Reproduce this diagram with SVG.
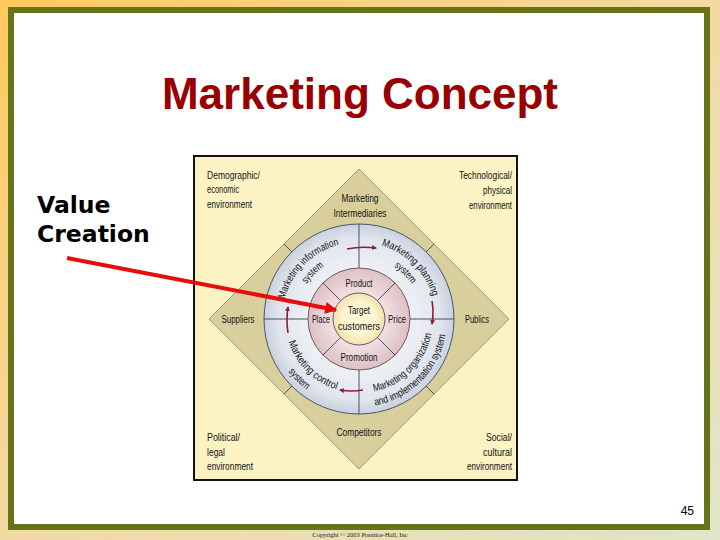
<svg xmlns="http://www.w3.org/2000/svg" width="720" height="540" viewBox="0 0 720 540">
<defs>
<linearGradient id="bg" x1="0" y1="0" x2="1" y2="1">
<stop offset="0" stop-color="#FFC95E"/>
<stop offset="0.5" stop-color="#F3D9A2"/>
<stop offset="1" stop-color="#E0E5CA"/>
</linearGradient>
<radialGradient id="ringBlue" cx="0.5" cy="0.5" r="0.5">
<stop offset="0.55" stop-color="#EEF0F4"/>
<stop offset="0.85" stop-color="#E0E5EE"/>
<stop offset="1" stop-color="#C9D1DE"/>
</radialGradient>
<radialGradient id="ringPink" cx="0.5" cy="0.5" r="0.5">
<stop offset="0.5" stop-color="#F2E2E4"/>
<stop offset="1" stop-color="#DDC0C6"/>
</radialGradient>
<radialGradient id="core" cx="0.5" cy="0.5" r="0.5">
<stop offset="0.6" stop-color="#FDF6D2"/>
<stop offset="1" stop-color="#F1E2AE"/>
</radialGradient>
<marker id="sm" viewBox="0 0 10 10" refX="8" refY="5" markerWidth="5" markerHeight="5" orient="auto" markerUnits="userSpaceOnUse">
<path d="M0,0 L10,5 L0,10 Z" fill="#8E1F33"/>
</marker>
<marker id="big" viewBox="0 0 10 10" refX="9" refY="5" markerWidth="14" markerHeight="12" orient="auto" markerUnits="userSpaceOnUse">
<path d="M0,0 L10,5 L0,10 Z" fill="#E80C0C"/>
</marker>
<path id="ulo" d="M282,319 A77,77 0 0 1 359,242"/>
<path id="uli" d="M296,319 A63,63 0 0 1 359,256"/>
<path id="uro" d="M359,242 A77,77 0 0 1 436,319"/>
<path id="uri" d="M359,256 A63,63 0 0 1 422,319"/>
<path id="lri" d="M359,393 A74,74 0 0 0 433,319"/>
<path id="lro" d="M359,407 A88,88 0 0 0 447,319"/>
<path id="lli" d="M285,319 A74,74 0 0 0 359,393"/>
<path id="llo" d="M271,319 A88,88 0 0 0 359,407"/>
</defs>
<style>
.cond { font-family: "Liberation Sans", Arial, sans-serif; fill: #141414; font-size: 10px; }
.arc { font-size: 10.5px; }
.div { stroke: #4A5060; stroke-width: 1; fill: none; }
.sa { stroke: #8E1F33; stroke-width: 1.6; fill: none; marker-end: url(#sm); }
</style>

<rect x="0" y="0" width="720" height="540" fill="url(#bg)"/>
<rect id="frame" x="11" y="10" width="696" height="517" fill="#FFFFFF" stroke="#667318" stroke-width="6"/>

<text id="title" x="360" y="109" text-anchor="middle" font-family="'Liberation Sans', Arial, sans-serif" font-weight="bold" font-size="44" fill="#990000">Marketing Concept</text>

<g id="value-creation">
<text x="37" y="213" font-family="'DejaVu Sans', Verdana, sans-serif" font-weight="bold" font-size="23.5" fill="#000">Value</text>
<text x="37" y="242" font-family="'DejaVu Sans', Verdana, sans-serif" font-weight="bold" font-size="23.5" fill="#000">Creation</text>
</g>

<g id="panel">
<rect x="194" y="156" width="323" height="324" fill="#FBF3C3" stroke="#111" stroke-width="2"/>
</g>

<g id="diamond">
<path d="M359,169 L509,319 L359,469 L209,319 Z" fill="#D8CF9D" stroke="#8F8860" stroke-width="0.8"/>
<path class="div" d="M284,244 L292,252 M434,244 L426,252 M434,394 L426,386 M284,394 L292,386" stroke="#6A6545"/>
</g>

<g id="outer-ring">
<circle cx="359" cy="319" r="95" fill="url(#ringBlue)" stroke="#4A5566" stroke-width="1"/>
<path class="div" d="M359,224 L359,268 M359,370 L359,414 M264,319 L308,319 M410,319 L454,319"/>
</g>

<g id="mix-ring">
<circle cx="359" cy="319" r="51" fill="url(#ringPink)" stroke="#6E5A60" stroke-width="1"/>
<path class="div" d="M341.3,301.3 L322.9,282.9 M376.7,301.3 L395.1,282.9 M376.7,336.7 L395.1,355.1 M341.3,336.7 L322.9,355.1" stroke="#6E5A60"/>
</g>

<g id="target">
<circle cx="359" cy="319" r="26" fill="url(#core)" stroke="#6E5A60" stroke-width="1"/>
<text class="cond" x="359" y="314" text-anchor="middle" textLength="22" lengthAdjust="spacingAndGlyphs">Target</text>
<text class="cond" x="359" y="330" text-anchor="middle" textLength="42" lengthAdjust="spacingAndGlyphs">customers</text>
</g>

<g id="product"><text class="cond" x="359" y="287" text-anchor="middle" textLength="27" lengthAdjust="spacingAndGlyphs">Product</text></g>
<g id="place"><text class="cond" x="321" y="323" text-anchor="middle" textLength="18" lengthAdjust="spacingAndGlyphs">Place</text></g>
<g id="price"><text class="cond" x="397" y="323" text-anchor="middle" textLength="18" lengthAdjust="spacingAndGlyphs">Price</text></g>
<g id="promotion"><text class="cond" x="359" y="361" text-anchor="middle" textLength="37" lengthAdjust="spacingAndGlyphs">Promotion</text></g>

<g id="info-system">
<text class="cond arc"><textPath href="#ulo" startOffset="50%" text-anchor="middle" textLength="80" lengthAdjust="spacingAndGlyphs">Marketing information</textPath></text>
<text class="cond arc"><textPath href="#uli" startOffset="50%" text-anchor="middle" textLength="25" lengthAdjust="spacingAndGlyphs">system</textPath></text>
</g>
<g id="planning-system">
<text class="cond arc"><textPath href="#uro" startOffset="50%" text-anchor="middle" textLength="75" lengthAdjust="spacingAndGlyphs">Marketing planning</textPath></text>
<text class="cond arc"><textPath href="#uri" startOffset="50%" text-anchor="middle" textLength="25" lengthAdjust="spacingAndGlyphs">system</textPath></text>
</g>
<g id="organization-system">
<text class="cond arc"><textPath href="#lri" startOffset="50%" text-anchor="middle" textLength="86" lengthAdjust="spacingAndGlyphs">Marketing organization</textPath></text>
<text class="cond arc"><textPath href="#lro" startOffset="50%" text-anchor="middle" textLength="106" lengthAdjust="spacingAndGlyphs">and implementation system</textPath></text>
</g>
<g id="control-system">
<text class="cond arc"><textPath href="#lli" startOffset="50%" text-anchor="middle" textLength="70" lengthAdjust="spacingAndGlyphs">Marketing control</textPath></text>
<text class="cond arc"><textPath href="#llo" startOffset="50%" text-anchor="middle" textLength="26" lengthAdjust="spacingAndGlyphs">system</textPath></text>
</g>

<g id="intermediaries">
<text class="cond" x="360" y="202" text-anchor="middle" textLength="37" lengthAdjust="spacingAndGlyphs">Marketing</text>
<text class="cond" x="360" y="217" text-anchor="middle" textLength="53" lengthAdjust="spacingAndGlyphs">Intermediaries</text>
</g>
<g id="suppliers"><text class="cond" x="238" y="323" text-anchor="middle" textLength="33" lengthAdjust="spacingAndGlyphs">Suppliers</text></g>
<g id="publics"><text class="cond" x="477" y="323" text-anchor="middle" textLength="24" lengthAdjust="spacingAndGlyphs">Publics</text></g>
<g id="competitors"><text class="cond" x="359" y="436" text-anchor="middle" textLength="45" lengthAdjust="spacingAndGlyphs">Competitors</text></g>

<g id="demographic">
<text class="cond" x="207" y="179" textLength="53" lengthAdjust="spacingAndGlyphs">Demographic/</text>
<text class="cond" x="207" y="193" textLength="32" lengthAdjust="spacingAndGlyphs">economic</text>
<text class="cond" x="207" y="208" textLength="45" lengthAdjust="spacingAndGlyphs">environment</text>
</g>
<g id="technological">
<text class="cond" x="512" y="179" text-anchor="end" textLength="53" lengthAdjust="spacingAndGlyphs">Technological/</text>
<text class="cond" x="512" y="194" text-anchor="end" textLength="29" lengthAdjust="spacingAndGlyphs">physical</text>
<text class="cond" x="512" y="209" text-anchor="end" textLength="43" lengthAdjust="spacingAndGlyphs">environment</text>
</g>
<g id="political">
<text class="cond" x="207" y="441" textLength="33" lengthAdjust="spacingAndGlyphs">Political/</text>
<text class="cond" x="207" y="456" textLength="18" lengthAdjust="spacingAndGlyphs">legal</text>
<text class="cond" x="207" y="470" textLength="46" lengthAdjust="spacingAndGlyphs">environment</text>
</g>
<g id="social">
<text class="cond" x="512" y="441" text-anchor="end" textLength="26" lengthAdjust="spacingAndGlyphs">Social/</text>
<text class="cond" x="512" y="456" text-anchor="end" textLength="29" lengthAdjust="spacingAndGlyphs">cultural</text>
<text class="cond" x="512" y="470" text-anchor="end" textLength="45" lengthAdjust="spacingAndGlyphs">environment</text>
</g>

<g id="connectors">
<path class="sa" d="M347,249 Q361,246 376,248"/>
<path class="sa" d="M432,301 Q434,312 432,324"/>
<path class="sa" d="M363,390 Q352,392 340,390"/>
<path class="sa" d="M288,333 Q286,320 288,307"/>
<line x1="67" y1="258" x2="336" y2="310" stroke="#E80C0C" stroke-width="4" marker-end="url(#big)"/>
</g>

<text id="page-number" x="694" y="515" text-anchor="end" font-family="'Liberation Sans', Arial, sans-serif" font-size="12" fill="#000">45</text>
<text id="copyright" x="360" y="537" text-anchor="middle" font-family="'Liberation Serif', serif" font-size="6.5" fill="#222">Copyright © 2003 Prentice-Hall, Inc</text>
</svg>
